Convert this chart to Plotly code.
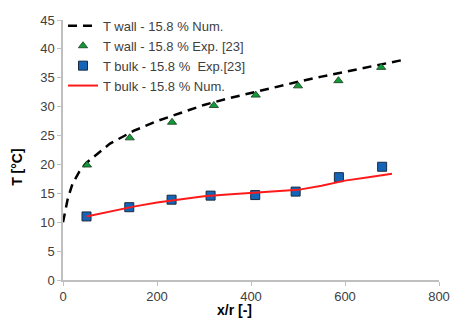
import plotly.graph_objects as go

# T wall numerical (dashed black)
wall_num_x = [0, 5, 10, 20, 35, 50, 100, 150, 200, 250, 300, 350, 400, 450, 500, 550, 600, 650, 700, 730]
wall_num_y = [10, 12.3, 14, 16.6, 18.8, 20.3, 23.6, 25.8, 27.5, 28.9, 30.3, 31.4, 32.4, 33.4, 34.3, 35.2, 36.0, 36.8, 37.6, 38.2]

# T wall experimental (green triangles)
wall_exp_x = [51, 142, 232, 321, 410, 500, 586, 677]
wall_exp_y = [19.9, 24.6, 27.3, 30.2, 32.0, 33.6, 34.5, 36.8]

# T bulk experimental (blue squares)
bulk_exp_x = [50, 141, 231, 314, 409, 495, 587, 679]
bulk_exp_y = [11.0, 12.6, 13.9, 14.6, 14.7, 15.3, 17.8, 19.6]

# T bulk numerical (red line)
bulk_num_x = [50, 100, 150, 200, 250, 300, 350, 400, 450, 500, 550, 600, 650, 700]
bulk_num_y = [11.0, 11.9, 12.7, 13.4, 14.0, 14.5, 14.8, 15.1, 15.3, 15.6, 16.3, 17.2, 17.8, 18.4]

x_ticks = [0, 200, 400, 600, 800]
y_ticks = [0, 5, 10, 15, 20, 25, 30, 35, 40, 45]

FONT = "Liberation Sans, Arial, sans-serif"
GRAY = "#404040"

fig = go.Figure()
fig.add_trace(go.Scatter(x=wall_num_x, y=wall_num_y, mode="lines",
                         name="T wall - 15.8 % Num.",
                         line=dict(color="black", width=2.5, dash="9px,6px")))
fig.add_trace(go.Scatter(x=wall_exp_x, y=wall_exp_y, mode="markers",
                         name="T wall - 15.8 % Exp. [23]",
                         marker=dict(symbol="triangle-up", size=8, color="#109a3a",
                                     line=dict(color="#1a3a1a", width=0.8))))
fig.add_trace(go.Scatter(x=bulk_exp_x, y=bulk_exp_y, mode="markers",
                         name="T bulk - 15.8 %  Exp.[23]",
                         marker=dict(symbol="square", size=9, color="#1465b8",
                                     line=dict(color="#1a2a40", width=1))))
fig.add_trace(go.Scatter(x=bulk_num_x, y=bulk_num_y, mode="lines",
                         name="T bulk - 15.8 % Num.",
                         line=dict(color="#ff1a1a", width=2)))

fig.update_layout(
    width=450, height=322,
    margin=dict(l=63, r=11, t=18, b=42),
    paper_bgcolor="white", plot_bgcolor="white",
    font=dict(family=FONT, size=13, color=GRAY),
    showlegend=True,
    legend=dict(x=0, y=1.035, xanchor="left", yanchor="top",
                bgcolor="rgba(0,0,0,0)", font=dict(size=13, color=GRAY),
                tracegroupgap=0, itemwidth=30),
    xaxis=dict(range=[0, 800], tickvals=x_ticks, showgrid=False, zeroline=False,
               showline=True, linecolor="#bfbfbf", linewidth=1.5,
               ticks="outside", tickcolor="#bfbfbf", ticklen=4, automargin=False,
               tickfont=dict(size=13, color=GRAY)),
    yaxis=dict(range=[0, 45], tickvals=y_ticks, showgrid=False, zeroline=False,
               showline=True, linecolor="#bfbfbf", linewidth=1.5,
               ticks="outside", tickcolor="#bfbfbf", ticklen=4, automargin=False,
               tickfont=dict(size=13, color=GRAY)),
    annotations=[
        dict(text="<b>x/r [-]</b>", xref="paper", yref="paper",
             x=(234 - 63) / 376, y=-(310 - 280) / 262, xanchor="center", yanchor="middle",
             showarrow=False, font=dict(size=14, color="black", family=FONT)),
        dict(text="<b>T [°C]</b>", xref="paper", yref="paper",
             x=-(63 - 17) / 376, y=(280 - 167) / 262, xanchor="center", yanchor="middle",
             textangle=-90, showarrow=False, font=dict(size=14, color="black", family=FONT)),
    ],
)

fig.write_html("out.html")
